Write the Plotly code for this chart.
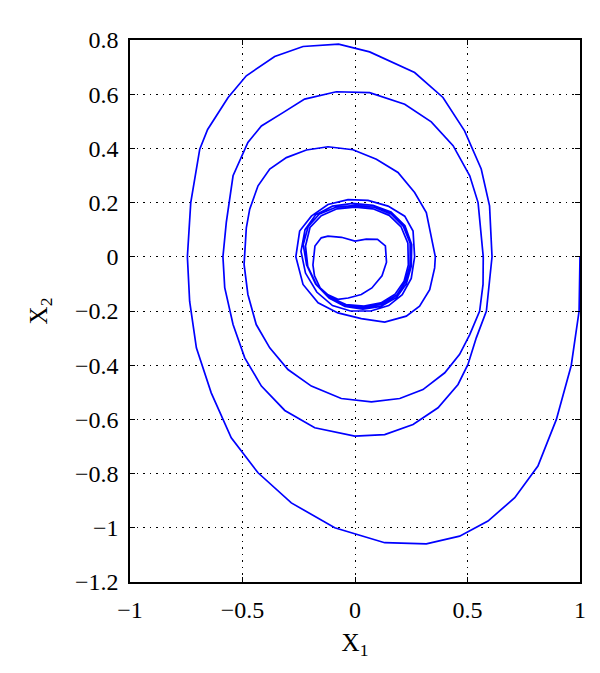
import plotly.graph_objects as go

# Trajectory points (X1, X2), in time order
x1 = [1.0, 0.996, 0.961, 0.895, 0.813, 0.71, 0.591, 0.465, 0.317, 0.132,
      -0.09, -0.283, -0.431, -0.55, -0.639, -0.705, -0.735, -0.745, -0.73, -0.69,
      -0.655, -0.564, -0.483, -0.357, -0.231, -0.073, 0.065, 0.265, 0.391, 0.487,
      0.561, 0.598, 0.609, 0.584, 0.539, 0.502, 0.458, 0.369, 0.258, 0.132,
      -0.001, -0.179, -0.312, -0.416, -0.49, -0.542, -0.579, -0.587, -0.572, -0.542,
      -0.476, -0.416, -0.32, -0.224, -0.083, 0.065, 0.221, 0.339, 0.436, 0.51,
      0.547, 0.561, 0.57, 0.569, 0.554, 0.51, 0.465, 0.399, 0.302, 0.199,
      0.073, -0.061, -0.194, -0.298, -0.379, -0.439, -0.476, -0.493, -0.483, -0.468,
      -0.431, -0.379, -0.305, -0.216, -0.12, -0.009, 0.095, 0.191, 0.265, 0.317,
      0.339, 0.357, 0.354, 0.332, 0.287, 0.228, 0.132, 0.028, -0.076, -0.164,
      -0.231, -0.263, -0.246, -0.194, -0.12, -0.031, 0.058, 0.147, 0.221, 0.258,
      0.265,
      0.25, 0.21, 0.15, 0.07, -0.02, -0.1, -0.17, -0.22, -0.24,
      -0.222, -0.175, -0.1, -0.01, 0.08, 0.16, 0.222, 0.252,
      0.25, 0.228, 0.185, 0.115, 0.035, -0.045, -0.115, -0.175, -0.215, -0.23,
      -0.208, -0.158, -0.085, 0.0, 0.085, 0.16, 0.215, 0.245,
      0.245, 0.225, 0.185, 0.12, 0.04, -0.04, -0.11, -0.17, -0.21, -0.22,
      -0.2, -0.15, -0.08, 0.0, 0.08, 0.152, 0.205, 0.235,
      0.237, 0.218, 0.178, 0.115, 0.04, -0.04, -0.105, -0.155,
      -0.18, -0.187, -0.178, -0.15, -0.12, -0.06, 0.0,
      0.05, 0.1, 0.135, 0.14, 0.12, 0.075, 0.028, -0.03, -0.076, -0.12]
x2 = [0.0, -0.2, -0.401, -0.6, -0.772, -0.889, -0.975, -1.031, -1.059, -1.055,
      -1.0, -0.908, -0.797, -0.668, -0.502, -0.336, -0.164, 0.0, 0.2, 0.397,
      0.47, 0.588, 0.668, 0.739, 0.776, 0.785, 0.756, 0.68, 0.588, 0.465,
      0.324, 0.188, 0.0, -0.2, -0.299, -0.397, -0.471, -0.557, -0.619, -0.656,
      -0.662, -0.631, -0.567, -0.477, -0.373, -0.25, -0.114, 0.0, 0.127, 0.299,
      0.422, 0.483, 0.532, 0.582, 0.609, 0.606, 0.563, 0.498, 0.41, 0.299,
      0.2, 0.077, 0.0, -0.102, -0.2, -0.287, -0.36, -0.428, -0.49, -0.523,
      -0.535, -0.523, -0.477, -0.416, -0.336, -0.25, -0.139, -0.028, 0.107, 0.176,
      0.262, 0.324, 0.366, 0.394, 0.406, 0.395, 0.36, 0.311, 0.237, 0.163,
      0.077, 0.0, -0.041, -0.121, -0.182, -0.219, -0.241, -0.228, -0.207, -0.17,
      -0.102, 0.0, 0.095, 0.15, 0.193, 0.211, 0.208, 0.187, 0.15, 0.095,
      0.0,
      -0.08, -0.14, -0.18, -0.2, -0.2, -0.18, -0.13, -0.06, 0.02,
      0.1, 0.155, 0.187, 0.197, 0.19, 0.165, 0.115, 0.045,
      -0.035, -0.1, -0.15, -0.183, -0.193, -0.183, -0.152, -0.1, -0.03, 0.045,
      0.112, 0.158, 0.183, 0.19, 0.183, 0.158, 0.112, 0.05,
      -0.03, -0.092, -0.142, -0.175, -0.188, -0.18, -0.155, -0.105, -0.035, 0.04,
      0.108, 0.152, 0.177, 0.183, 0.177, 0.153, 0.11, 0.05,
      -0.03, -0.09, -0.138, -0.17, -0.182, -0.176, -0.152, -0.115,
      -0.07, -0.03, 0.04, 0.07, 0.076, 0.072, 0.058,
      0.065, 0.064, 0.04, -0.02, -0.07, -0.115, -0.139, -0.152, -0.157, -0.14]

x_ticks = [-1, -0.5, 0, 0.5, 1]
x_ticklabels = ["\u22121", "\u22120.5", "0", "0.5", "1"]
y_ticks = [-1.2, -1.0, -0.8, -0.6, -0.4, -0.2, 0, 0.2, 0.4, 0.6, 0.8]
y_ticklabels = ["\u22121.2", "\u22121", "\u22120.8", "\u22120.6", "\u22120.4", "\u22120.2",
                "0", "0.2", "0.4", "0.6", "0.8"]

font_family = "Liberation Serif, DejaVu Serif, serif"

fig = go.Figure()
fig.add_trace(go.Scatter(x=x1, y=x2, mode="lines",
                         line=dict(color="#0000ff", width=1.7),
                         showlegend=False, hoverinfo="skip"))

axis_common = dict(
    showline=True, linecolor="black", linewidth=1.5, mirror="ticks",
    ticks="inside", ticklen=5, tickcolor="black", tickwidth=1,
    showgrid=True, gridcolor="black", gridwidth=1.2, griddash="1.5px,5px",
    zeroline=False,
    tickfont=dict(family=font_family, size=24, color="black"),
)

fig.update_layout(
    width=600, height=673,
    margin=dict(l=122, r=28, t=32, b=99),
    paper_bgcolor="white", plot_bgcolor="white",
    font=dict(family=font_family, size=24, color="black"),
    xaxis=dict(range=[-1, 1], tickvals=x_ticks, ticktext=x_ticklabels,
               title=dict(text="X<sub>1</sub>", font=dict(family=font_family, size=25),
                          standoff=12),
               ticklabelstandoff=5, **axis_common),
    yaxis=dict(range=[-1.2, 0.8], tickvals=y_ticks, ticktext=y_ticklabels,
               title=dict(text="X<sub>2</sub>", font=dict(family=font_family, size=25),
                          standoff=20),
               ticklabelstandoff=5, **axis_common),
)

fig.write_html("out.html")
